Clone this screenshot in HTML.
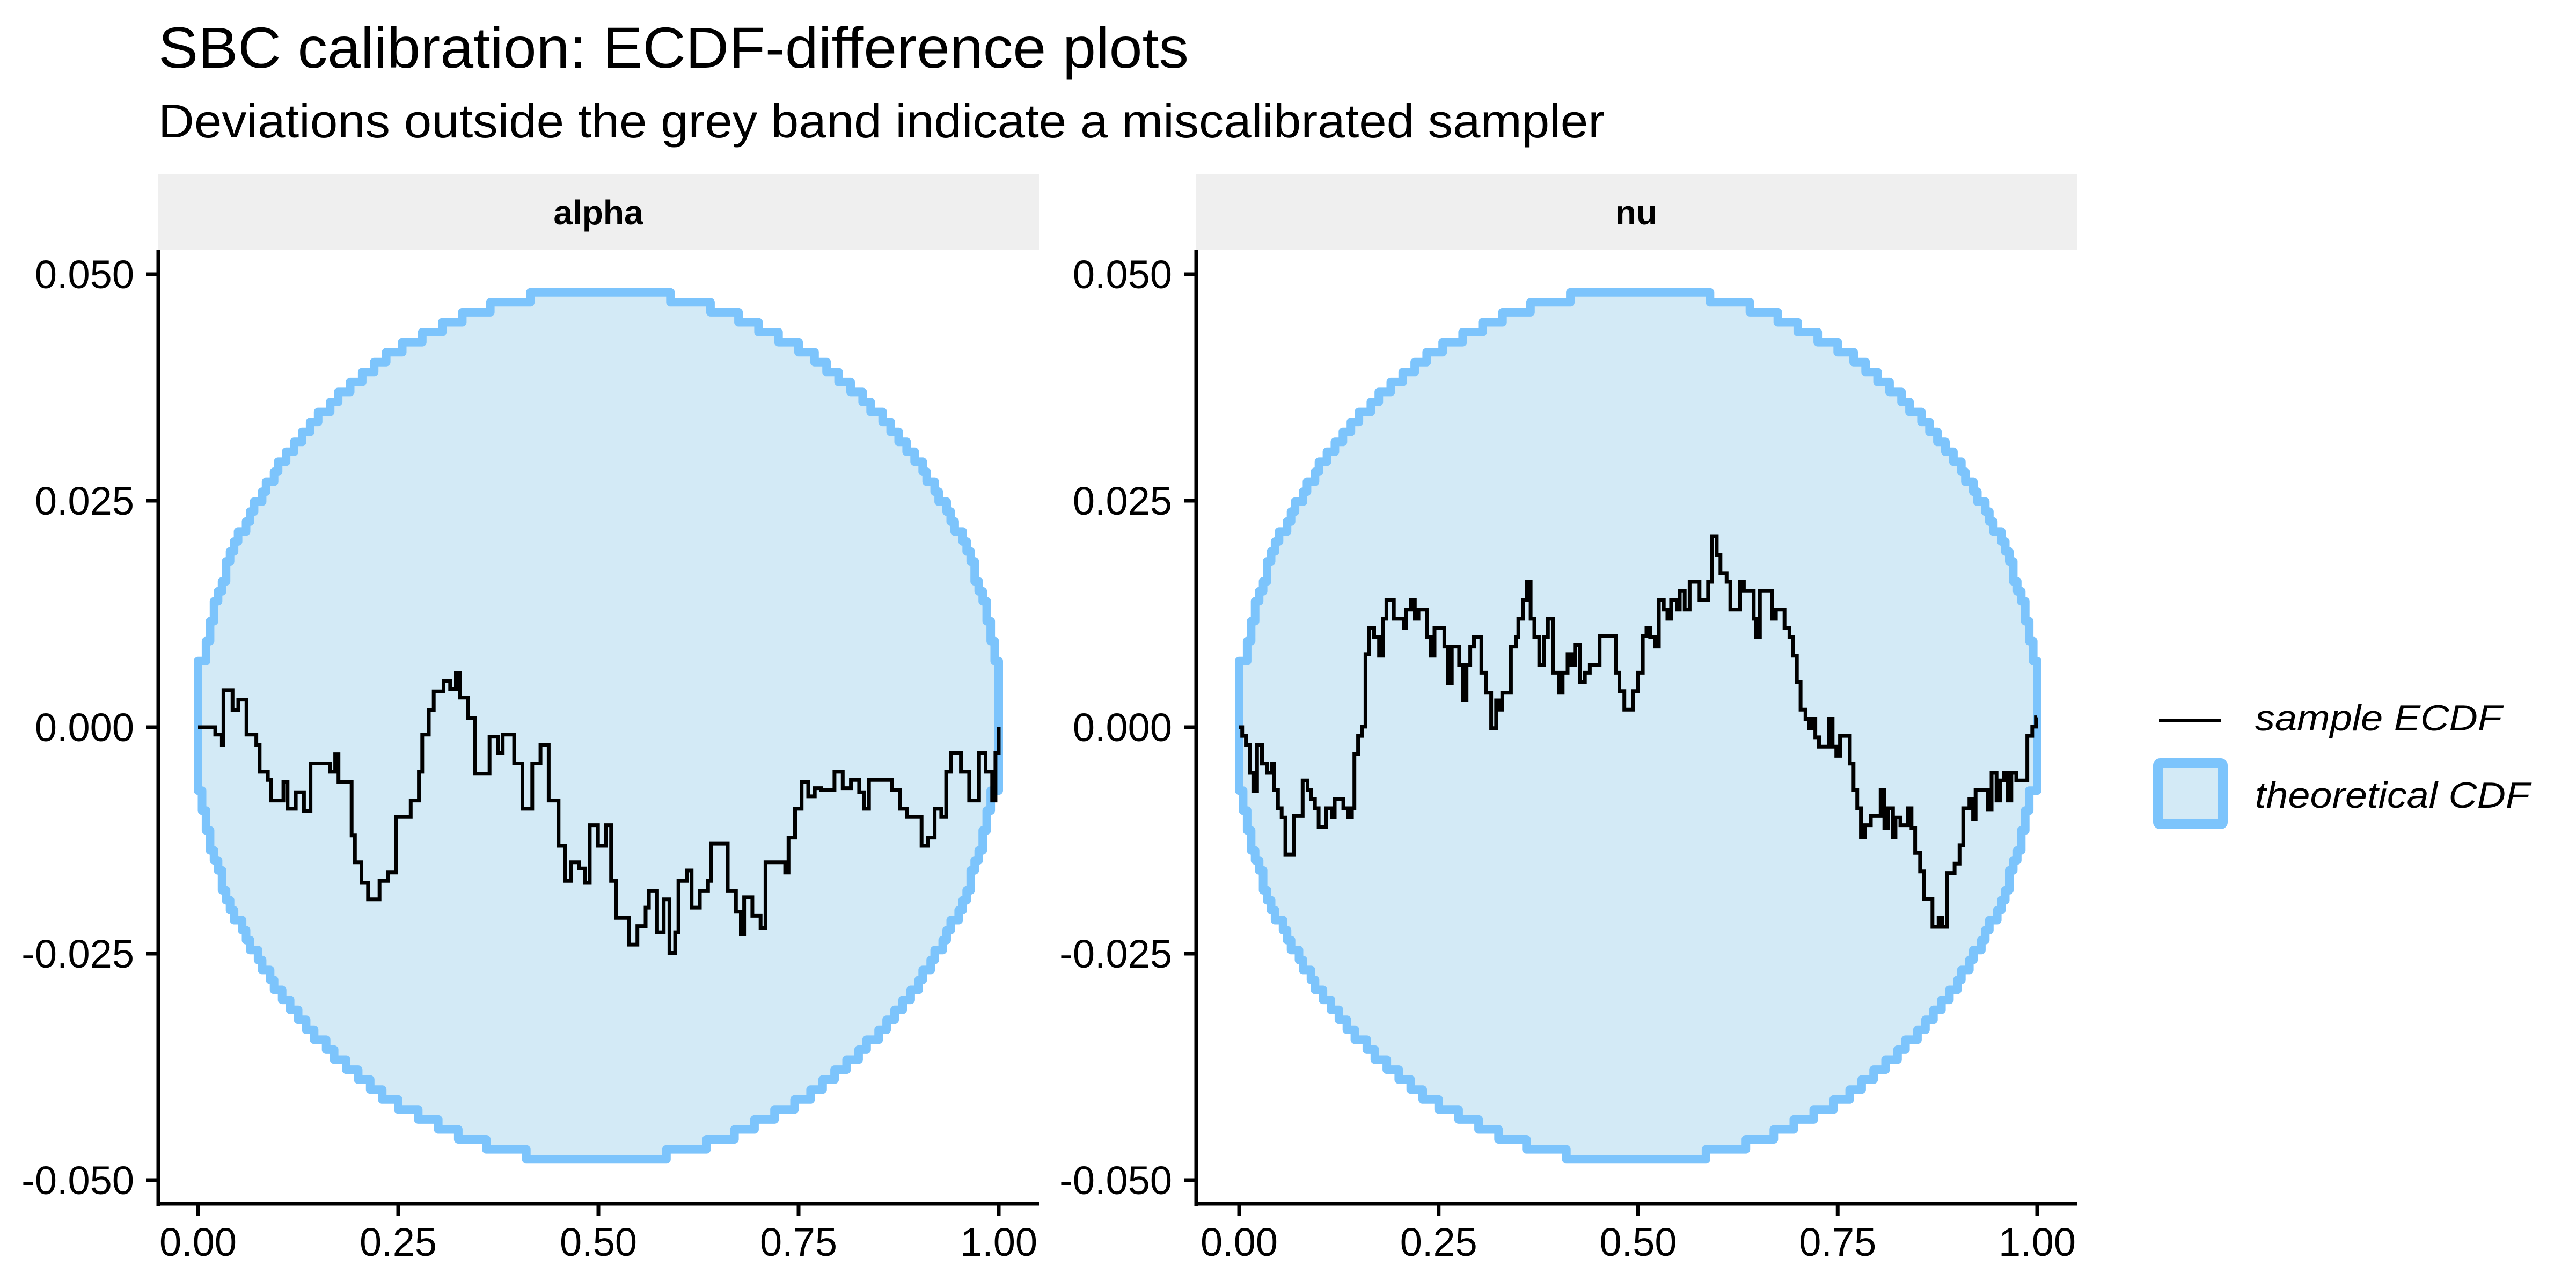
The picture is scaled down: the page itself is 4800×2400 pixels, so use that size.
<!DOCTYPE html>
<html><head><meta charset="utf-8">
<style>
html,body{margin:0;padding:0;background:#fff;}
svg{display:block;}
text{font-family:"Liberation Sans",Arial,sans-serif;}
</style></head>
<body>
<svg id="s" width="4800" height="2400" viewBox="0 0 4800 2400" xmlns="http://www.w3.org/2000/svg">
<rect width="4800" height="2400" fill="#fff"/>
<text x="295" y="126" font-size="108" fill="#000" textLength="1920" lengthAdjust="spacingAndGlyphs">SBC calibration: ECDF-difference plots</text>
<text x="295" y="256" font-size="88" fill="#000" textLength="2695" lengthAdjust="spacingAndGlyphs">Deviations outside the grey band indicate a miscalibrated sampler</text>
<g id="p1"></g>
<g id="p2"></g>
<line x1="4023" y1="1342" x2="4139" y2="1342" stroke="#000" stroke-width="6"/>
<text x="4202" y="1361" font-size="68" font-style="italic" textLength="460" lengthAdjust="spacingAndGlyphs">sample ECDF</text>
<rect x="4021" y="1422" width="121" height="114" fill="#d3eaf6" stroke="#7cc4fc" stroke-width="18" rx="4"/>
<text x="4202" y="1505" font-size="68" font-style="italic" textLength="512" lengthAdjust="spacingAndGlyphs">theoretical CDF</text>
</svg>
<script>
var NS="http://www.w3.org/2000/svg";
function el(p,tag,a,txt){var e=document.createElementNS(NS,tag);for(var k in a)e.setAttribute(k,a[k]);if(txt!==undefined)e.textContent=txt;p.appendChild(e);return e;}
function band(){
  var N=200,dy=0.0011,up=[],lo=[];
  for(var i=0;i<=N;i++){var x=i/N;var v=0.096*Math.sqrt(x*(1-x));v=Math.max(v,0.0075);v=Math.floor(v/dy)*dy+0.0007;v=Math.min(v,0.048);up.push([x,v]);lo.push([x,-Math.min(v-0.0003,0.0477)]);}
  return [up,lo];
}
var B=band();
function panel(gid,left,x0,w,label,pts,zx0,zxw,zy0,zys){
  var g=document.getElementById(gid);
  var right=left+1641;
  var X=function(x){return x0+x*w;}, Y=function(y){return 1355-y/0.025*422;};
  el(g,"rect",{x:left,y:324,width:1641,height:141,fill:"#efefef"});
  el(g,"text",{x:left+820,y:418,"font-size":64,"font-weight":"bold","text-anchor":"middle"},label);
  var up=B[0],lo=B[1],d="M"+X(0)+","+Y(lo[0][1])+" L"+X(0)+","+Y(up[0][1]);
  for(var i=1;i<up.length;i++){d+=" L"+X(up[i][0]).toFixed(1)+","+Y(up[i-1][1]).toFixed(1)+" L"+X(up[i][0]).toFixed(1)+","+Y(up[i][1]).toFixed(1);}
  d+=" L"+X(1)+","+Y(lo[lo.length-1][1]);
  for(var i=lo.length-2;i>=0;i--){d+=" L"+X(lo[i][0]).toFixed(1)+","+Y(lo[i+1][1]).toFixed(1)+" L"+X(lo[i][0]).toFixed(1)+","+Y(lo[i][1]).toFixed(1);}
  d+=" Z";
  el(g,"path",{d:d,fill:"#d3eaf6",stroke:"#7cc4fc","stroke-width":16,"stroke-linejoin":"round"});
  var dd="";
  for(var i=0;i<pts.length;i++){
    var x=(pts[i][0]-zx0)/zxw,y=-(pts[i][1]-zy0)/zys*0.025;
    var px=X(x).toFixed(1),py=Y(y).toFixed(1);
    if(i==0)dd="M"+px+","+py;else dd+=" H"+px+" V"+py;
  }
  el(g,"path",{d:dd,fill:"none",stroke:"#000","stroke-width":7,"stroke-linejoin":"miter"});
  el(g,"line",{x1:left,y1:465,x2:left,y2:2247,stroke:"#000","stroke-width":7});
  el(g,"line",{x1:left-3,y1:2243,x2:right,y2:2243,stroke:"#000","stroke-width":7});
  var yt=[[0.05,"0.050"],[0.025,"0.025"],[0,"0.000"],[-0.025,"-0.025"],[-0.05,"-0.050"]];
  yt.forEach(function(t){var yy=Y(t[0]);el(g,"line",{x1:left-23,y1:yy,x2:left,y2:yy,stroke:"#000","stroke-width":7});
    el(g,"text",{x:left-45,y:yy+26,"font-size":74,"text-anchor":"end"},t[1]);});
  ["0.00","0.25","0.50","0.75","1.00"].forEach(function(t,i){var xx=X(i/4);el(g,"line",{x1:xx,y1:2243,x2:xx,y2:2266,stroke:"#000","stroke-width":7});
    el(g,"text",{x:xx,y:2340,"font-size":74,"text-anchor":"middle"},t);});
}
var A=[[241,202],[262,220],[270,245],[272,112],[280,112],[283,160],[290,135],[300,160],[300,220],[312,245],[316,310],[326,330],[330,380],[345,335],[350,400],[360,360],[370,405],[378,290],[398,290],[402,310],[408,268],[412,335],[420,335],[428,465],[432,530],[440,580],[448,620],[456,620],[462,575],[472,555],[482,555],[482,420],[492,420],[500,380],[510,310],[514,220],[522,160],[528,115],[540,90],[548,110],[555,70],[560,130],[570,180],[578,315],[590,315],[596,225],[606,265],[612,220],[626,290],[636,400],[642,400],[648,290],[658,245],[668,380],[680,490],[688,575],[695,530],[705,545],[712,580],[718,440],[728,490],[738,440],[744,575],[750,665],[762,665],[766,730],[772,730],[776,685],[786,640],[790,600],[800,700],[808,620],[815,750],[822,700],[826,575],[836,550],[842,640],[852,600],[862,575],[866,485],[878,485],[886,600],[896,650],[902,705],[906,615],[916,660],[926,690],[932,530],[946,530],[956,555],[960,470],[968,400],[976,335],[984,370],[992,350],[1000,355],[1016,310],[1026,350],[1036,330],[1046,360],[1052,400],[1058,330],[1066,330],[1086,355],[1096,400],[1104,420],[1116,420],[1122,490],[1130,470],[1138,400],[1146,420],[1152,310],[1158,265],[1170,310],[1180,380],[1192,265],[1200,310],[1208,380],[1212,265],[1216,202]];
var N2=[[95,792],[100,820],[106,850],[112,940],[118,1000],[124,850],[132,910],[140,940],[148,910],[152,995],[158,1055],[164,1085],[170,1205],[180,1205],[184,1080],[194,1080],[198,965],[206,995],[212,1025],[218,1055],[224,1115],[234,1115],[236,1055],[246,1085],[250,1025],[260,1025],[264,1055],[272,1085],[278,1055],[282,880],[288,820],[294,790],[300,555],[306,470],[314,500],[322,560],[328,440],[334,380],[344,380],[346,440],[358,440],[362,470],[366,410],[374,380],[380,440],[386,410],[398,410],[400,500],[406,560],[412,470],[424,470],[428,530],[434,650],[440,530],[450,530],[452,590],[458,705],[464,590],[470,530],[476,500],[482,500],[488,615],[496,680],[504,795],[512,705],[518,735],[522,680],[534,680],[536,530],[544,500],[548,440],[556,380],[562,320],[568,440],[574,500],[582,590],[590,500],[596,440],[604,615],[614,680],[620,615],[628,555],[634,590],[640,525],[648,645],[656,615],[664,590],[676,590],[680,495],[696,495],[706,615],[712,675],[720,735],[728,735],[734,675],[742,615],[750,495],[756,470],[762,500],[770,530],[776,380],[784,410],[790,440],[796,380],[806,410],[810,350],[818,410],[826,320],[836,320],[842,380],[852,380],[856,320],[862,172],[870,232],[876,292],[886,320],[892,410],[904,410],[908,320],[914,350],[924,350],[930,440],[934,500],[940,350],[956,350],[960,440],[966,410],[976,410],[980,470],[988,500],[994,560],[1000,645],[1006,735],[1014,765],[1020,795],[1026,765],[1030,825],[1036,855],[1046,855],[1052,765],[1058,855],[1064,885],[1070,820],[1080,820],[1086,910],[1092,995],[1098,1055],[1104,1150],[1110,1110],[1120,1080],[1134,1080],[1136,995],[1142,1120],[1148,1055],[1156,1150],[1160,1085],[1168,1110],[1180,1055],[1186,1120],[1192,1200],[1200,1260],[1206,1350],[1216,1350],[1220,1440],[1230,1410],[1236,1440],[1244,1265],[1256,1235],[1264,1175],[1270,1055],[1280,1025],[1286,1090],[1290,995],[1304,995],[1310,1060],[1316,940],[1324,1030],[1330,965],[1336,940],[1342,1030],[1348,940],[1356,965],[1370,965],[1374,820],[1382,790],[1388,760],[1390,760]];
panel("p1",295,369,1492,"alpha",A,241,975,202,550);
panel("p2",2229,2309,1487,"nu",N2,95,1295,792,735);
</script>
</body></html>
